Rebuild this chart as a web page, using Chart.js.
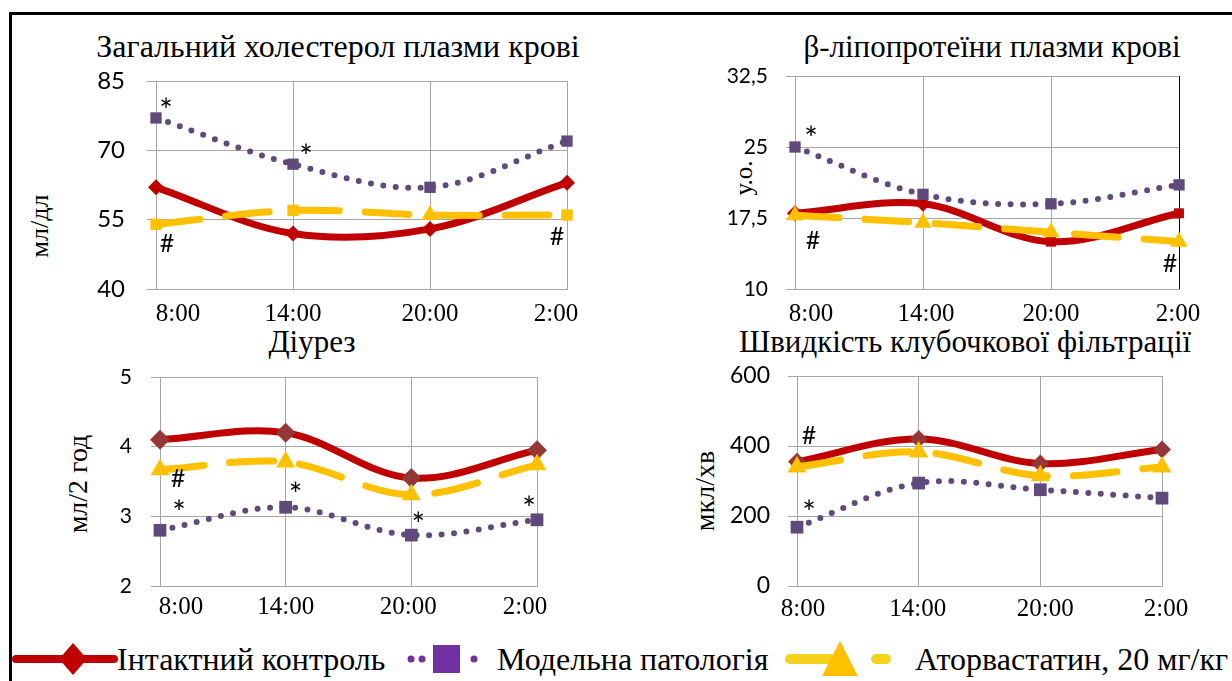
<!DOCTYPE html>
<html>
<head>
<meta charset="utf-8">
<script src="https://cdn.jsdelivr.net/npm/chart.js@4"></script>
<style>
    body { margin: 0; width: 1232px; height: 681px; overflow: hidden; background: #fff; position: relative; font-family: 'Liberation Serif', 'Times New Roman', serif; color: #000; }
    .abs { position: absolute; white-space: nowrap; line-height: 1; }
    .title { font-size: 31px; transform: translate(-50%, -50%); }
    .ytitle { font-size: 28px; transform: translate(-50%, -50%) rotate(-90deg); }
    .leg { font-size: 32px; top: 643px; }
    canvas { position: absolute; }
    svg { position: absolute; }
</style>
</head>
<body>

<div class="abs" style="left:9px; top:12px; width:1300px; height:700px; border-top:3px solid #000; border-left:3px solid #000;"></div>

<div class="abs title" style="left:338px; top:46px; font-size:32px;">Загальний холестерол плазми крові</div>
<div class="abs title" style="left:992px; top:46px;">β-ліпопротеїни плазми крові</div>
<div class="abs title" style="left:312px; top:341px;">Діурез</div>
<div class="abs title" style="left:965px; top:341px;">Швидкість клубочкової фільтрації</div>

<div class="abs ytitle" style="left:40px; top:226px; font-size:26px;">мл/дл</div>
<div class="abs ytitle" style="left:743px; top:178px; font-size:25px;">у.о.</div>
<div class="abs ytitle" style="left:78px; top:484px;">мл/2 год</div>
<div class="abs ytitle" style="left:705px; top:491px;">мкл/хв</div>

<canvas id="c1"></canvas>
<canvas id="c2"></canvas>
<canvas id="c3"></canvas>
<canvas id="c4"></canvas>

<!-- легенда -->
<svg style="left:12px; top:640px;" width="106" height="38">
    <line x1="4" y1="19" x2="102" y2="19" stroke="#C00000" stroke-width="8" stroke-linecap="round"/>
    <polygon points="61,3 75,19 61,35 47,19" fill="#C00000"/>
</svg>
<div class="abs leg" style="left:117px;">Інтактний контроль</div>

<svg style="left:402px; top:640px;" width="80" height="38">
    <circle cx="9" cy="19" r="3.5" fill="#7030A0"/>
    <circle cx="20" cy="19" r="3.5" fill="#7030A0"/>
    <rect x="31" y="5" width="27" height="28" fill="#7030A0"/>
    <circle cx="72" cy="19" r="3.5" fill="#7030A0"/>
</svg>
<div class="abs leg" style="left:497px;">Модельна патологія</div>

<svg style="left:782px; top:638px;" width="112" height="42">
    <line x1="8" y1="21" x2="48" y2="21" stroke="#F5D31C" stroke-width="10" stroke-linecap="round"/>
    <polygon points="58,3 76,38 40,38" fill="#FFC000"/>
    <line x1="94" y1="21" x2="104" y2="21" stroke="#F5D31C" stroke-width="10" stroke-linecap="round"/>
</svg>
<div class="abs leg" style="left:915px;">Аторвастатин, 20 мг/кг</div>

<script>
// час спостереження
const times = ['8:00', '14:00', '20:00', '2:00'];

// загальний холестерол, мл/дл
const cholIntact = [62, 52, 53, 63];
const cholModel = [77, 67, 62, 72];
const cholAtor = [54, 57, 56, 56];

// β-ліпопротеїни, у.о.
const lipoIntact = [18, 19, 15, 18];
const lipoModel = [25, 20, 19, 21];
const lipoAtor = [17.8, 17, 16, 15];

// діурез, мл/2 год
const diurIntact = [4.1, 4.2, 3.55, 3.95];
const diurModel = [2.8, 3.13, 2.73, 2.95];
const diurAtor = [3.67, 3.78, 3.31, 3.74];

// швидкість клубочкової фільтрації, мкл/хв
const gfrIntact = [355, 420, 350, 390];
const gfrModel = [168, 294, 275, 251];
const gfrAtor = [340, 383, 315, 340];

const RED = '#C00000';
const BROWN = '#953735';
const PURPLE = '#604A7B';
const YELLOW = '#FFC000';
const GRID = '#A6A6A6';

function intactSet(data, color, styles, radius) {
    return {
        label: 'Інтактний контроль', data: data,
        borderColor: RED, borderWidth: 7, tension: 0.35,
        pointStyle: styles, pointRadius: radius,
        pointBackgroundColor: color, pointBorderWidth: 0,
        clip: false, order: 2
    };
}

function modelSet(data, radius) {
    return {
        label: 'Модельна патологія', data: data,
        borderColor: PURPLE, borderWidth: 6, borderDash: [0, 12.5], borderCapStyle: 'round', tension: 0.35,
        pointStyle: 'rect', pointRadius: radius,
        pointBackgroundColor: PURPLE, pointBorderWidth: 0,
        clip: false, order: 1
    };
}

function atorSet(data, styles, radius) {
    return {
        label: 'Аторвастатин, 20 мг/кг', data: data,
        borderColor: YELLOW, borderWidth: 7, borderDash: [44, 26], borderCapStyle: 'round', tension: 0.35,
        pointStyle: styles, pointRadius: radius,
        pointBackgroundColor: YELLOW, pointBorderWidth: 0,
        clip: false, order: 0
    };
}

// підписи осі X і позначки * та # малюються від положень точок
const labelsAndNotes = {
    id: 'labelsAndNotes',
    afterDatasetsDraw(chart, args, opts) {
        const ctx = chart.ctx;
        const x = chart.scales.x;
        const bottom = chart.chartArea.bottom;
        ctx.save();
        ctx.fillStyle = '#000';
        ctx.textAlign = 'center';
        ctx.textBaseline = 'alphabetic';
        ctx.font = '25px "Liberation Serif", serif';
        times.forEach(function (t, i) {
            ctx.fillText(t, x.getPixelForValue(i) + opts.labelDx[i], bottom + opts.labelDy + 8.5);
        });
        opts.notes.forEach(function (n) {
            const p = chart.getDatasetMeta(n.set).data[n.i];
            if (n.text === '*') {
                ctx.font = '32px Lato, sans-serif';
                ctx.fillText('*', p.x + n.dx, p.y + n.dy + 17);
            } else {
                ctx.font = '25px Lato, sans-serif';
                ctx.fillText('#', p.x + n.dx, p.y + n.dy + 9);
            }
        });
        ctx.restore();
    }
};

function makeChart(id, box, yScale, datasets, labelDx, labelDy, notes, edgeColor) {
    const canvas = document.getElementById(id);
    const w = box.R - box.L + 160;
    const h = box.B - box.T + 70;
    canvas.width = w;
    canvas.height = h;
    canvas.style.left = (box.L - 100) + 'px';
    canvas.style.top = (box.T - 20) + 'px';

    return new Chart(canvas.getContext('2d'), {
        type: 'line',
        data: { labels: times, datasets: datasets },
        options: {
            responsive: false,
            animation: false,
            devicePixelRatio: 1,
            layout: { padding: { left: 0, top: 20, right: 60, bottom: 0 } },
            plugins: {
                legend: { display: false },
                tooltip: { enabled: false },
                labelsAndNotes: { labelDx: labelDx, labelDy: labelDy, notes: notes }
            },
            scales: {
                x: {
                    offset: false,
                    grid: {
                        color: function (c) { return c.index === times.length - 1 ? edgeColor : GRID; },
                        drawTicks: false
                    },
                    border: { color: GRID },
                    ticks: { display: false },
                    afterFit: function (s) { s.height = 50; s.paddingLeft = 0; s.paddingRight = 0; }
                },
                y: {
                    min: yScale.min, max: yScale.max,
                    grid: { color: GRID, tickLength: 9 },
                    border: { display: false },
                    ticks: {
                        stepSize: yScale.step,
                        padding: yScale.pad,
                        color: '#000',
                        font: { family: 'Lato', size: yScale.size },
                        callback: function (v) { return String(v).replace('.', ','); }
                    },
                    afterFit: function (s) { s.width = 100; s.paddingTop = 0; s.paddingBottom = 0; }
                }
            }
        },
        plugins: [labelsAndNotes]
    });
}

makeChart('c1', { L: 156, R: 567, T: 81, B: 289 },
    { min: 40, max: 85, step: 15, pad: 22, size: 24 },
    [
        intactSet(cholIntact, RED, 'rectRot', 8),
        modelSet(cholModel, 8),
        atorSet(cholAtor, ['rect', 'rect', 'triangle', 'rect'], [8, 8, 10, 8])
    ],
    [22, 0, 0, -11], 23,
    [
        { set: 1, i: 0, text: '*', dx: 10, dy: -13 },
        { set: 1, i: 1, text: '*', dx: 13, dy: -13 },
        { set: 2, i: 0, text: '#', dx: 11, dy: 19 },
        { set: 2, i: 3, text: '#', dx: -10, dy: 21 }
    ], GRID);

makeChart('c2', { L: 795, R: 1179, T: 76, B: 289 },
    { min: 10, max: 32.5, step: 7.5, pad: 18, size: 21 },
    [
        intactSet(lipoIntact, RED, ['rectRot', 'rectRot', 'rect', 'rect'], [8, 8, 7, 7]),
        modelSet(lipoModel, 8),
        atorSet(lipoAtor, 'triangle', 10)
    ],
    [16, 3, 0, -1], 23,
    [
        { set: 1, i: 0, text: '*', dx: 16, dy: -14 },
        { set: 2, i: 0, text: '#', dx: 18, dy: 25 },
        { set: 2, i: 3, text: '#', dx: -9, dy: 21 }
    ], '#000');

makeChart('c3', { L: 160, R: 537, T: 377, B: 586 },
    { min: 2, max: 5, step: 1, pad: 19, size: 21 },
    [
        intactSet(diurIntact, BROWN, 'rectRot', 10),
        modelSet(diurModel, 9),
        atorSet(diurAtor, 'triangle', 11)
    ],
    [21, 0, -3, -12], 19,
    [
        { set: 2, i: 0, text: '#', dx: 18, dy: 8 },
        { set: 1, i: 0, text: '*', dx: 19, dy: -23 },
        { set: 1, i: 1, text: '*', dx: 10, dy: -18 },
        { set: 1, i: 2, text: '*', dx: 7, dy: -16 },
        { set: 1, i: 3, text: '*', dx: -8, dy: -17 }
    ], GRID);

makeChart('c4', { L: 797, R: 1162, T: 376, B: 586 },
    { min: 0, max: 600, step: 200, pad: 18, size: 23 },
    [
        intactSet(gfrIntact, BROWN, 'rectRot', 9),
        modelSet(gfrModel, 9),
        atorSet(gfrAtor, 'triangle', 11)
    ],
    [6, -1, 5, 4], 21,
    [
        { set: 0, i: 0, text: '#', dx: 12, dy: -27 },
        { set: 1, i: 0, text: '*', dx: 12, dy: -20 }
    ], GRID);
</script>
</body>
</html>
